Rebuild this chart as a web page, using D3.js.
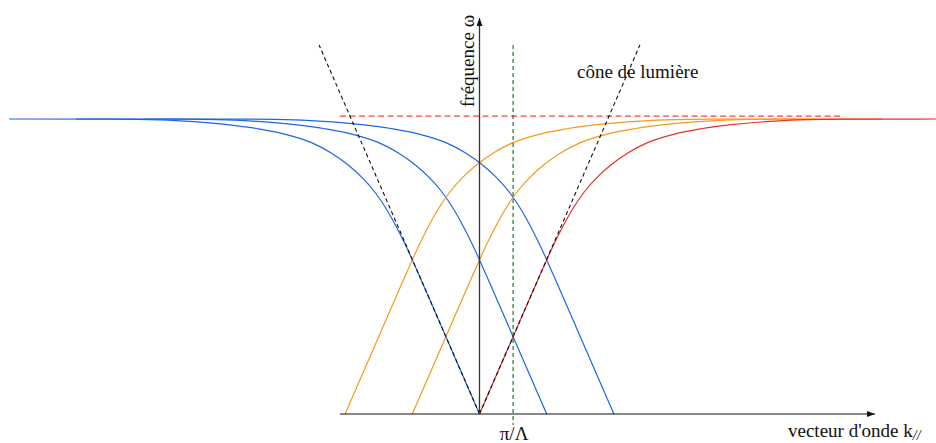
<!DOCTYPE html>
<html>
<head>
<meta charset="utf-8">
<script src="https://cdn.jsdelivr.net/npm/d3@7"></script>
<style>
  body { margin: 0; background: #fff; }
  text { font-family: "Liberation Serif", "Times New Roman", serif; fill: #111; }
</style>
</head>
<body>
<svg id="chart"></svg>
<script>
const width = 936;
const height = 443;

// base dispersion branch (k in units of pi/Lambda, omega in units of omega_sp)
const baseK     = [0, 1.0, 1.8, 2.2, 2.5, 2.8, 3.1, 3.5, 3.9, 4.4, 5.0, 5.8, 6.6, 7.5, 8.5, 9.5, 11, 14];
const baseOmega = [0, 0.262, 0.471, 0.572, 0.640, 0.700, 0.750, 0.802, 0.843, 0.884, 0.920, 0.949, 0.967, 0.981, 0.991, 0.997, 0.9995, 1.0];

// folded branches: shift by multiples of 2pi/Lambda
const redShifts    = [0];
const blueShifts   = [0, 2, 4];
const orangeShifts = [-2, -4];

const asymptote = 1.01;       // omega_sp dashed line
const asymptoteK = [-4.15, 10.75];
const lightSlope = 0.262;     // light cone omega = c k
const lightTop = 1.251;
const piOverLambda = 1;
const axisK = [-4.15, 11.77];
const axisOmega = [0, 1.342];

const x = d3.scaleLinear().domain([0, 1]).range([479.5, 513.1]);
const y = d3.scaleLinear().domain([0, 1]).range([414, 119]);

const svg = d3.select("#chart").attr("width", width).attr("height", height);

const base = baseK.map((k, i) => ({ k: k, w: baseOmega[i] }));

const line = d3.line()
  .x((d) => x(d.k))
  .y((d) => y(d.w))
  .curve(d3.curveMonotoneX);

function branch(shift, sign) {
  const pts = base.map((d) => ({ k: shift + sign * d.k, w: d.w }));
  return sign < 0 ? pts.reverse() : pts;
}

svg.selectAll("path.blue")
  .data(blueShifts)
  .enter()
  .append("path")
  .attr("class", "blue")
  .attr("d", (s) => line(branch(s, -1)))
  .attr("fill", "none")
  .attr("stroke", "#1e66e6")
  .attr("stroke-width", 1.2);

svg.selectAll("path.orange")
  .data(orangeShifts)
  .enter()
  .append("path")
  .attr("class", "orange")
  .attr("d", (s) => line(branch(s, 1)))
  .attr("fill", "none")
  .attr("stroke", "#f59a1c")
  .attr("stroke-width", 1.2);

svg.selectAll("path.red")
  .data(redShifts)
  .enter()
  .append("path")
  .attr("class", "red")
  .attr("d", (s) => line(branch(s, 1)))
  .attr("fill", "none")
  .attr("stroke", "#e53228")
  .attr("stroke-width", 1.2);

// asymptote
svg.append("line")
  .attr("x1", x(asymptoteK[0])).attr("x2", x(asymptoteK[1]))
  .attr("y1", y(asymptote)).attr("y2", y(asymptote))
  .attr("stroke", "#ee4640")
  .attr("stroke-width", 1.2)
  .attr("stroke-dasharray", "6,3.5");

// light cone
[-1, 1].forEach((s) => {
  svg.append("line")
    .attr("x1", x(0)).attr("y1", y(0))
    .attr("x2", x(s * lightTop / lightSlope)).attr("y2", y(lightTop))
    .attr("stroke", "#111")
    .attr("stroke-width", 1.1)
    .attr("stroke-dasharray", "4,3");
});

// pi / Lambda
svg.append("line")
  .attr("x1", x(piOverLambda)).attr("x2", x(piOverLambda))
  .attr("y1", y(lightTop)).attr("y2", 425)
  .attr("stroke", "#0d6b16")
  .attr("stroke-width", 1.1)
  .attr("stroke-dasharray", "4,3");

// axes with arrows
svg.append("defs").append("marker")
  .attr("id", "arrow")
  .attr("viewBox", "0 0 8 6")
  .attr("refX", 8).attr("refY", 3)
  .attr("markerWidth", 8).attr("markerHeight", 6)
  .attr("markerUnits", "userSpaceOnUse")
  .attr("orient", "auto")
  .append("path")
  .attr("d", "M0,0L8,3L0,6Z")
  .attr("fill", "#111");

svg.append("line")
  .attr("x1", x(axisK[0])).attr("x2", x(axisK[1]))
  .attr("y1", y(0)).attr("y2", y(0))
  .attr("stroke", "#111")
  .attr("stroke-width", 1.2)
  .attr("marker-end", "url(#arrow)");

svg.append("line")
  .attr("x1", x(0)).attr("x2", x(0))
  .attr("y1", y(axisOmega[0])).attr("y2", y(axisOmega[1]))
  .attr("stroke", "#333")
  .attr("stroke-width", 1.3)
  .attr("marker-end", "url(#arrow)");

// labels
svg.append("text")
  .attr("transform", `translate(${x(0) - 6}, 107) rotate(-90)`)
  .attr("font-size", 19)
  .text("fréquence ω");

svg.append("text")
  .attr("x", 577).attr("y", 78)
  .attr("font-size", 19)
  .text("cône de lumière");

svg.append("text")
  .attr("x", x(piOverLambda) + 1).attr("y", 440)
  .attr("text-anchor", "middle")
  .attr("font-size", 19)
  .text("π/Λ");

const kLabel = svg.append("text")
  .attr("x", 788).attr("y", 437)
  .attr("font-size", 19);
kLabel.append("tspan").text("vecteur d'onde k");
kLabel.append("tspan")
  .attr("dy", 3)
  .attr("font-size", 14)
  .attr("font-style", "italic")
  .text("//");
</script>
</body>
</html>
